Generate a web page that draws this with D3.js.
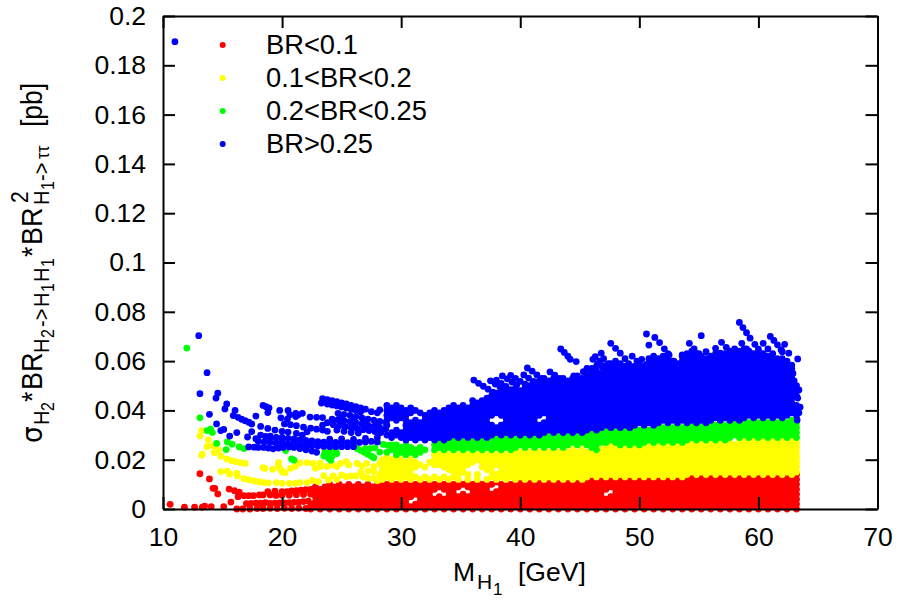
<!DOCTYPE html>
<html>
<head>
<meta charset="utf-8">
<script src="https://cdnjs.cloudflare.com/ajax/libs/d3/7.8.5/d3.min.js"></script>
<style>
body { margin: 0; background: #fff; }
text { font-family: "Liberation Sans", Arial, sans-serif; fill: #000; }
</style>
</head>
<body>
<div id="viz"></div>
<script>
var xTicks = [10, 20, 30, 40, 50, 60, 70];
var yTicks = [0, 0.02, 0.04, 0.06, 0.08, 0.1, 0.12, 0.14, 0.16, 0.18, 0.2];
var legendLabels = ['BR<0.1', '0.1<BR<0.2', '0.2<BR<0.25', 'BR>0.25'];
var colors = ['#ff0000', '#ffff00', '#00ff00', '#0000ff'];

// values are in units of 0.001 pb
// loose points: flat x,y,x,y
var redLoose = [10.6,1.9, 11.8,.7, 12.65,.7, 13.3,.7, 13.5,1.2, 14.05,1, 15.1,1, 13.1,14.3, 13.9,12.2, 14.2,8.4, 14.35,8.4, 14.6,6.1, 15.7,2.8,
  15.55,8.1, 16,7.4, 16.4,6.8, 16.3,5, 16.8,5.4, 17.2,5.4, 17.6,5.4, 18.1,5.7, 18.4,5.7, 18.8,7, 19,5.7, 19.4,7.2, 19.5,5.5, 20,7, 20.4,7, 20.8,7.3, 21.2,7.4, 21.6,7.6, 22,7.8, 20,5.6, 20.6,5.6, 21.2,5.8, 21.8,5.9,
  16.2,0, 16.7,0, 17,2.2, 17.3,0, 17.4,2.3, 17.8,2.4, 17.9,.2, 18.2,2.4, 18.4,.2, 18.6,2.6, 19,2.3, 19,.3, 19.4,2.4, 19.6,.2, 19.8,2.5, 20.2,.3, 20.2,2.5, 20.6,2.6, 20.8,.2, 21,2.7, 21.4,.3, 21.4,2.8, 21.8,3, 22,.2, 22.2,3.2];
var yellowLoose = [13.25,31.8, 13.1,29.6, 13.8,28, 13.7,25.3, 14.2,25.6, 14.65,24, 14.85,21.5, 14.3,22.9, 13.3,22.3, 13.25,21.8,
  15.35,20.3, 15.77,19.6, 16.1,19.2, 16.5,18.8, 16.9,18.5, 14.85,15.2, 15.4,15.4, 15.6,14.2, 16.2,14.5, 16.25,13.4, 16.8,12.3, 17.25,11.8, 17.7,11.4, 18.1,11, 18.5,10.7, 18.85,10.6, 19.5,10.7, 20,10.4, 20.6,10.4, 21.1,10.4, 21.5,10.7, 22.1,10.7, 22.55,11.6, 23.05,11.1, 23.5,13.5, 23.9,11.8, 24.3,13.4, 24.6,12, 25,13.8, 25.4,13.1, 25.8,13.4, 26.2,13.4, 26.8,13.1, 27.2,12.5, 27.7,12.4, 28.2,13.8, 28,11.5,
  18.4,16.8, 18.55,16.4, 19.2,16.1, 19.7,18.8, 19.8,16.5, 20,15.1, 20.25,14.7, 19.7,17.4, 20.7,16.5, 21.1,17.2, 21.5,18.7, 22.1,18.8, 22.6,18.5, 22.8,16.5, 23.2,17.2, 23.2,18.6, 23.75,17.2, 24.2,17.9, 24.6,17.2, 24.9,18.5, 25.4,19.2, 25.6,17.9, 26.3,18.5, 26.7,17.4, 27.1,18.5, 27.7,17.2, 28.2,18.5, 27.7,15.2, 27.2,15.4, 26.6,15];
var greenLoose = [12,65.3, 13.1,37, 13.7,31.8, 14,32.4, 14.15,31, 14.5,26.6, 15.4,27.2, 15.8,26.3, 15.3,24.1, 16.4,25.2, 16.8,24.5, 20.3,23.7, 20.8,20.3, 21,19.8, 22.4,26,
  23.5,21.5, 23.6,23, 23.9,20.6, 23.9,22.5, 24.1,24, 24.2,21.5, 24.6,22.5, 24.1,19.8, 24.5,24,
  26.3,24.5, 26.6,23.8, 26.9,23, 27.2,22.2, 27.5,21.4, 27.7,20.8, 27,24.5, 27.4,24.5, 27.8,24.8, 28.2,23.1, 28.8,23,
  28.5,26.2, 28.9,25.8, 29.2,26, 29.2,24];
var blueLoose = [11,189.6, 13,70.3, 13.7,55.3, 13.1,46.8, 14.6,47, 14.45,45, 15.35,42.6, 15.2,40.6, 16.05,40, 15.9,37.9, 13.9,38.4, 16.3,37.2, 16.6,36.4, 16.9,35.8, 17.2,35.2, 17.45,34.5, 17.8,37.7, 18.4,42, 18.65,41.5, 18.9,41, 18.8,39.1, 19.8,40, 19.9,37, 20.5,40, 20.65,38.2, 20.45,36.5, 21.15,38.8, 21.15,37.5, 21.7,38.8, 21.35,38.2, 22.35,37.3, 22.9,37.2, 23.4,37.1, 14.5,34.5, 15.1,32.3, 14.85,31.8, 15.6,29.6, 16.2,31, 17.1,29.2, 17.45,31.4, 18.2,33.5, 18.8,32.7, 19.4,32, 20,31.5, 20.5,31.2, 21.2,30.7, 21.7,30, 22.1,31.3,
  20.2,34.5, 20.7,34.2, 21.2,33.8, 21.8,33.2, 22.4,32.8, 22.9,32.4, 23.4,34, 23.4,32, 23.8,31.5,
  17.2,25.2, 17.65,25.1, 18,25, 18.45,25, 18.85,24.7, 19.25,24.4, 19.7,24.7, 20.1,25, 20.6,25.2, 21,25, 21.5,24.5, 22,24, 22.5,23.5, 22.9,23,
  17.8,28.5, 18.2,30, 18.6,29.5, 19,29.6, 19.5,29, 20,29, 20.5,28.6, 21,28.4, 21.5,28, 22,27.8, 22.5,27.6, 23,27.3, 23.5,27.1, 24,26.9, 24.5,27, 25,27, 25.5,26.9, 26,26.9, 26.5,27, 27,27.2, 27.5,27.4, 28,27.2,
  18,27.5, 18.5,27.2, 19,27, 19.5,26.8, 20,26.6, 20.5,26.4, 21,26.2, 21.5,26, 22,25.8, 22.5,25.6, 23,25.6, 23.5,25.4, 24,25.3, 24.5,25.3, 25,25.3, 25.5,25.3, 26,25.3, 19,28, 20,27.5, 21,27.3, 22,26.8, 23,26.5, 24,28.3, 25,28.4, 26,28.2, 27,28.6, 28,29,
  23.4,44.8, 23.8,44.4, 24.2,44, 24.6,43.5, 25,43, 25.4,42.6, 25.8,42, 26.2,41.5, 26.6,41, 27,40.5, 23.3,43, 23.8,42.6, 24.2,42.2, 24.6,41.8, 25,41.4, 25.4,41, 25.8,40.5, 26.2,40, 26.6,39.5, 27.5,39.5, 28,39, 28.2,40.2,
  24.7,38.8, 25.2,38.4, 25.7,38, 26.2,37.5, 26.7,37, 27.2,36.5, 27.7,36, 28.2,35.5, 28.7,35, 24.2,36.5, 24.7,36.2, 25.2,35.8, 25.7,35.4, 26.2,35, 26.7,34.5, 27.2,34, 27.7,33.5, 28.2,33, 28.7,32.5, 23.8,35, 24.3,34.2, 24.8,33.8, 25.3,33.4, 25.8,33, 26.3,32.6, 26.8,32.2, 27.3,31.8, 27.8,31.4, 28.3,31, 24.6,32, 25.2,31.5, 25.8,31, 26.4,30.8, 25,37, 26,36.5, 27,35.5, 28,34.5, 24.2,35.5, 25,34.8, 26,34, 27,33, 28,32,
  // streaks on the top edge
  36.1,52.3, 36.5,51, 36.9,49.8, 37.3,48.6, 37.7,47.4, 38.1,46.2, 37.5,52, 37.9,50.7, 38.3,49.5, 38.7,48.3, 39.1,47, 38.5,54, 38.9,52.8, 39.3,51.5, 39.7,50.3, 39.2,54.2, 39.6,53, 40,51.8, 40.4,50.6, 40.8,49.4, 41.2,48.2,
  38,52.3, 38.4,51, 38.8,49.7, 39.2,48.4, 39.6,47.1, 40.3,54.4, 40.7,53.1, 41.1,51.8, 41.5,50.4, 41.9,49, 42.3,47.4, 42.5,45.6,
  42.8,51, 43.2,49.7, 43.6,48.3, 44,47, 44.5,45.6, 45,44.2,
  40.6,57.2, 41,55.9, 41.4,54.4, 41.8,53, 42.2,51.7, 42.5,55.6, 42.9,54.3, 43.3,53, 43.7,51.8, 44.1,50.5, 44.5,49.3, 43.4,64.9, 43.7,63.5, 44,62, 44.2,60.7, 44.7,59.8, 44.5,54, 44.9,52.7, 45.3,51.4, 45.7,50.1, 45.6,57, 46,55.7, 46.4,54.4, 46.8,53, 47.2,51.7, 46.1,60.7, 46.5,59, 46.9,57.5, 47.3,56,
  45.3,55.7, 45.7,54.3, 46.1,52.9, 46.5,51.5, 46.9,50, 47.3,48.5, 47.6,47, 46.3,61.8, 46.7,60, 47.1,58.2, 47.5,56, 47.9,53.7,
  46.8,63.2, 47,61, 47.4,59, 47.8,57, 48.2,55, 48.6,53, 47.6,67.2, 48,65.2, 48.4,63.2, 48.8,61, 49.1,59, 49.4,57, 49.4,62, 49.8,60, 50.2,58, 50.6,71, 50.8,66.5, 51,60.7, 51.3,69.6, 51.7,67.5, 52.1,65, 52.5,62.5, 52.9,60, 53.3,57.5, 50.2,60.7, 50.6,58.7, 51,56.7,
  53.6,62.5, 54,60.5, 54.4,58.5, 54.8,56.5, 55.2,54.5, 54.2,67.2, 54.6,65, 55,63, 55.4,60.5, 55.8,58.5, 55.2,70.3, 55.6,63.8, 56,61.8, 56.4,59.8, 56.8,57.8, 56.4,65.2, 56.8,63.2, 57.2,61.2, 57.6,59, 56.9,67.6, 57.3,65.6, 57.7,63.6, 58.1,61.5, 58.5,59.5,
  58.4,75.7, 58.7,73.6, 59,71.5, 59.3,69.3, 59.7,66.8, 60,64.8, 60.3,62.8, 58.6,67.2, 59,65, 59.4,63, 59.8,61, 60.4,67.2, 60.8,65, 61.2,63, 61.6,61, 61,70, 61.3,68.4, 61.6,66.6, 61.9,64.6, 62,63.8, 62.2,66.8, 62.55,63.2, 63.3,60.9, 62.8,58.4, 62.9,55, 63,52, 63.4,48.3, 63.3,45, 63.5,41.3, 63.4,39, 63.25,36.1];

// dense part: each column is [x, y, y, ...]
var redCols = [[22.4,0,2,6,8],[22.8,1,3,5,7,9],[23.2,0,2,4,6,8],[23.6,1,3,5,7,9],[24,0,2,4,6,8,10],[24.4,1,3,5,7,9],[24.8,0,2,4,6,8,10],[25.2,1,3,5,7,9],[25.6,0,2,4,6,8,10],[26,1,3,5,7,9],[26.4,0,2,4,6,8,10],[26.8,1,3,5,7,9],[27.2,0,2,4,6,8,10],[27.6,1,3,5,7,9],[28,0,2,4,6,8,10],[28.4,1,3,5,7,9,11],[28.8,0,2,4,6,8,10],
[29.2,1,3,5,7,9,11],[29.6,0,2,4,6,8,10],[30,1,3,5,7,9,11],[30.4,0,2,4,6,8,10],[30.8,1,5,7,9,11],[31.2,0,2,6,8,10],[31.6,1,3,5,7,9,11],[32,0,2,4,6,8,10],[32.4,1,3,5,7,9,11],[32.8,0,2,4,8,10],[33.2,1,3,5,9,11],[33.6,0,2,4,8,10],[34,1,3,5,7,9,11],[34.4,0,2,4,6,8,10],[34.8,1,3,5,9,11],[35.2,0,2,4,6,10],[35.6,1,3,5,9,11],[36,0,2,4,6,8,10],[36.4,1,3,5,7,9,11],[36.8,0,2,4,6,8,10],[37.2,1,3,5,7,9,11],[37.6,0,2,4,6,10],[38,1,3,5,7,11],[38.4,0,2,4,6,8,10],[38.8,1,3,5,7,9,11],[39.2,0,2,4,6,8,10],[39.6,1,3,5,7,9,11],
[40,0,2,4,6,8,10,12],[40.4,1,3,5,7,9,11],[40.8,0,2,4,6,8,10,12],[41.2,1,3,5,7,9,11],[41.6,0,2,4,6,8,10,12],[42,1,3,5,7,9,11],[42.4,0,2,4,6,8,10,12],[42.8,1,3,5,7,9,11],[43.2,0,2,4,6,8,10,12],[43.6,1,3,5,7,9,11],[44,0,2,4,6,8,10,12],[44.4,1,3,5,7,9,11],[44.8,0,2,4,6,8,10,12],[45.2,1,3,5,7,9,11],[45.6,0,2,4,6,8,10,12],[46,1,3,5,7,9,11,13],[46.4,0,2,4,6,8,10,12],[46.8,1,3,5,7,9,11,13],
[47.2,0,2,4,8,10,12],[47.6,1,3,5,9,11,13],[48,0,2,4,6,8,10,12],[48.4,1,3,5,7,9,11,13],[48.8,0,2,4,6,8,10,12],[49.2,1,3,5,7,9,11,13],[49.6,0,2,4,6,8,10,12],[50,1,3,5,7,9,11,13],[50.4,0,2,4,6,8,10,12],[50.8,1,3,5,7,9,11,13],[51.2,0,2,4,6,8,10,12],[51.6,1,3,5,7,9,11,13],[52,0,2,4,6,8,10,12],[52.4,1,3,5,7,9,11,13],[52.8,0,2,4,6,8,10,12],[53.2,1,3,5,7,9,11,13],[53.6,0,2,4,6,8,10,12],[54,1,3,5,7,9,11,13],[54.4,0,2,4,6,8,10,12,14],[54.8,1,3,5,7,9,11,13],[55.2,0,2,4,6,8,10,12,14],[55.6,1,3,5,7,9,11,13],[56,0,2,4,6,8,10,12,14],[56.4,1,3,5,7,9,11,13],[56.8,0,2,4,6,8,10,12,14],[57.2,1,3,5,7,9,11,13],[57.6,0,2,4,6,8,10,12,14],[58,1,3,5,7,9,11,13],[58.4,0,2,4,6,8,10,12,14],[58.8,1,3,5,7,9,11,13],[59.2,0,2,4,6,8,10,12,14],[59.6,1,3,5,7,9,11,13],[60,0,2,4,6,8,10,12,14],[60.4,1,3,5,7,9,11,13],[60.8,0,2,4,6,8,10,12,14],[61.2,1,3,5,7,9,11,13],[61.6,0,2,4,6,8,10,12,14],[62,1,3,5,7,9,11,13],[62.4,0,2,4,6,8,10,12,14],[62.8,1,3,5,7,9,11,13],[63.2,0,2,4,6,8,10,12,14]];

var yellowCols = [[28.4,12,14,16,18,20],[28.8,13,15,17,19,21],[29.2,12,14,16,18,20],[29.6,13,15,17,19,21],[30,12,14,16,18,20],[30.4,13,15,17,19],[30.8,12,14,16,18,20],[31.2,13,17,19],[31.6,12,18],[32,13,17],[32.4,12,19],[32.8,13,18,20,22],[33.2,12,18,20,22],[33.6,13,17,19,21,23],[34,12,16,18,20,22],[34.4,13,15,17,19,21,23],[34.8,12,14,16,18,20,22],[35.2,15,17,19,21,23],[35.6,12,14,18,20,22],[36,19,21,23],[36.4,12,14,20,22],[36.8,17,19,21,23],[37.2,12,16,18,20,22],[37.6,13,15,17,19,21,23],[38,12,14,18,20,22],[38.4,13,15,17,19,21,23],[38.8,12,14,16,18,20,22],
[39.2,13,15,17,19,21,23],[39.6,12,14,16,18,20,22,24],[40,13,15,17,19,21,23],[40.4,12,14,16,18,20,22,24],[40.8,13,15,17,19,21,23],[41.2,12,14,16,18,20,22,24],[41.6,13,15,17,19,21,23],[42,12,14,16,18,20,22,24],[42.4,13,15,17,19,21,23],[42.8,12,14,16,18,20,22,24],[43.2,13,15,17,19,21,23],[43.6,12,14,16,18,20,22,24],[44,13,15,17,19,21,23],[44.4,12,14,16,18,20,22,24],[44.8,13,15,17,19,21,23],[45.2,12,14,16,18,20,22,24],[45.6,13,15,17,19,21,23],[46,14,16,18,20,22,24],[46.4,13,15,17,19,21,23],[46.8,14,16,18,20,22,24],
[47.2,13,15,17,19,21,23,25],[47.6,14,16,18,20,22,24,26],[48,13,15,17,19,21,23,25],[48.4,14,16,18,20,22,24,26],[48.8,13,15,17,19,21,23,25],[49.2,14,16,18,20,22,24,26],[49.6,13,15,17,19,21,23,25],[50,14,16,18,20,22,24,26],[50.4,13,15,17,19,21,23,25],[50.8,14,16,18,20,22,24,26],[51.2,13,15,17,19,21,23,25],[51.6,14,16,18,20,22,24,26],[52,13,15,17,19,21,23,25],[52.4,14,16,18,20,22,24,26],[52.8,13,15,17,19,21,23,25],[53.2,14,16,18,20,22,24,26],[53.6,13,15,17,19,21,23,25],[54,14,16,18,20,22,24,26],[54.4,15,17,19,21,23,25,27],[54.8,14,16,18,20,22,24,26],[55.2,15,17,19,21,23,25,27],[55.6,14,16,18,20,22,24,26],[56,15,17,19,21,23,25,27],[56.4,14,16,18,20,22,24,26],[56.8,15,17,19,21,23,25,27],[57.2,14,16,18,20,22,24,26],[57.6,15,17,19,21,23,25,27],[58,14,16,18,20,22,24,26],[58.4,15,17,19,21,23,25,27],[58.8,14,16,18,20,22,24,26,28],[59.2,15,17,19,21,23,25,27],[59.6,14,16,18,20,22,24,26,28],[60,15,17,19,21,23,25,27],[60.4,14,16,18,20,22,24,26,28],[60.8,15,17,19,21,23,25,27],[61.2,14,16,18,20,22,24,26,28],[61.6,15,17,19,21,23,25,27],[62,14,16,18,20,22,24,26,28],[62.4,15,17,19,21,23,25,27],[62.8,14,16,18,20,22,24,26,28],[63.2,15,17,19,21,23,25,27]];

var greenCols = [[29.6,22,24,26],[30,23,25],[30.4,22,24,26],[30.8,23,25],[31.2,22,24],[31.6,23,25],[32,24],[32.8,24,26],[33.2,25,27],[33.6,24,26,28],[34,25,27,29],[34.4,24,26,28],[34.8,25,27,29],[35.2,24,26,28],[35.6,25,27,29],[36,24,26,28],[36.4,25,27,29],[36.8,24,26,28],[37.2,25,27,29],[37.6,24,26,28],[38,25,27,29],[38.4,24,26,28,30],[38.8,25,27,29],[39.2,24,26,28,30],[39.6,25,27,29],[40,26,28,30],[40.4,25,27,29],[40.8,26,28,30],[41.2,25,27,29],[41.6,26,28,30],[42,25,27,29,31],[42.4,26,28,30],[42.8,25,27,29,31],[43.2,26,28,30],[43.6,25,27,29,31],[44,26,28,30],[44.4,27,29,31],[44.8,26,28,30],[45.2,27,29,31],[45.6,26,28,30],[46,25,27,29,31],[46.4,24,26,28,30],[46.8,27,29,31],[47.2,27,29,31,33],[47.6,28,30,32],[48,27,29,31,33],[48.4,26,28,30,32],[48.8,27,29,31,33],[49.2,26,28,30,32],[49.6,27,29,31,33],[50,26,28,30,32],[50.4,27,29,31,33],[50.8,28,30,32],[51.2,27,29,31,33],[51.6,28,30,32,34],[52,27,29,31,33],[52.4,28,30,32,34],[52.8,27,29,31,33],[53.2,28,30,32,34],[53.6,27,29,31,33],[54,28,30,32,34],[54.4,29,31,33,35],[54.8,28,30,32,34],[55.2,29,31,33,35],[55.6,28,30,32,34],[56,29,31,33,35],[56.4,28,30,32,34],[56.8,29,31,33,35],[57.2,28,30,32,34],[57.6,29,31,33,35],[58,30,32,34,36],[58.4,29,31,33,35],[58.8,30,32,34,36],[59.2,29,31,33,35],[59.6,30,32,34,36],[60,29,31,33,35],[60.4,30,32,34,36],[60.8,29,31,33,35],[61.2,30,32,34,36],[61.6,29,31,33,35],[62,30,32,34,36],[62.4,29,31,33,35],[62.8,30,32,34,36],[63.2,29,31,33,35]];

var blueCols = [[28.8,30,34,36,38,40,42],[29.2,29,31,37,39,41],[29.6,30,32,36,38,40,42],[30,29,31,37,39,41],[30.4,28,30,32,34,36,38,40],[30.8,29,31,33,35,39,41],[31.2,28,30,32,34,36,40],[31.6,29,31,33,35,39],[32,28,30,32,34,36,38],[32.4,29,31,33,35,37,39],[32.8,28,30,32,34,36,38,40],[33.2,29,31,33,35,37,39],[33.6,28,30,32,34,36,38,40],[34,29,31,33,35,37,39,41],[34.4,30,32,34,36,38,40,42],[34.8,29,31,33,35,37,39,41],[35.2,30,32,34,36,38,40,42],[35.6,29,31,33,35,37,39,41],[36,30,32,34,36,38,40,42,44],[36.4,29,31,33,35,37,39,41,43],[36.8,30,32,34,36,38,40,42,44],[37.2,29,31,33,35,37,39,41,43,45],[37.6,30,32,34,38,40,42,44,46],[38,31,33,39,41,43,45,47],[38.4,30,32,34,38,40,42,44,46,48],[38.8,31,33,35,37,39,41,43,45,47],[39.2,30,32,34,36,38,40,42,44,46],[39.6,31,33,35,37,39,41,43,45,47,49],[40,30,32,34,36,38,40,42,44,46,48],[40.4,31,33,35,37,39,41,43,45,47,49],[40.8,30,32,34,36,38,40,42,44,46,48,50],[41.2,31,33,35,37,39,41,43,45,47,49,51],[41.6,30,32,34,38,40,42,44,46,48,50,52],[42,31,33,35,39,41,43,45,47,49,51,53],[42.4,32,34,36,38,40,42,44,46,48,50,52],[42.8,31,33,35,37,39,41,43,45,47,49,51,53],[43.2,32,34,36,38,40,42,44,46,48,50,52],[43.6,31,33,35,37,39,41,43,45,47,49,51,53],[44,32,34,36,38,40,42,44,46,48,50,52],
[44.4,31,33,35,37,39,41,43,45,47,49,51,53],[44.8,32,34,36,38,40,42,44,46,48,50,52,54],[45.2,31,33,35,37,39,41,43,45,47,49,51,53],[45.6,32,34,36,38,40,42,44,46,48,50,52,54],[46,33,35,37,39,41,43,45,47,49,51,53,55,57],[46.4,32,34,36,38,40,42,44,46,48,50,52,54,56,58],[46.8,33,35,37,39,41,43,45,47,49,51,53,55],[47.2,34,36,38,40,42,44,46,48,50,52,54,56,58],[47.6,33,35,37,39,41,43,45,47,49,51,53,55,57,59],[48,34,36,38,40,42,44,46,48,50,52,54,56,58,60],[48.4,33,35,37,39,41,43,45,47,49,51,53,55,57,59],[48.8,34,36,38,40,42,44,46,48,50,52,54,56,58],[49.2,33,35,37,39,41,43,45,47,49,51,53,55,57],[49.6,34,36,38,40,42,44,46,48,50,52,54,56,58],[50,35,37,39,41,43,45,47,49,51,53,55,57,59],[50.4,34,36,38,40,42,44,46,48,50,52,54,56,58],[50.8,35,37,39,41,43,45,47,49,51,53,55,57,59,61],[51.2,34,36,38,40,42,44,46,48,50,52,54,56,58,60,62],[51.6,35,37,39,41,43,45,47,49,51,53,55,57,59,61],[52,36,38,40,42,44,46,48,50,52,54,56,58,60,62],[52.4,35,37,39,41,43,45,47,49,51,53,55,57,59,61,63],[52.8,36,38,40,42,44,46,48,50,52,54,56,58,60],[53.2,35,37,39,41,43,45,47,49,51,53,55,57,59],[53.6,36,38,40,42,44,46,48,50,52,54,56,58,60,62],[54,35,37,39,41,43,45,47,49,51,53,55,57,59,61,63],[54.4,36,38,40,42,44,46,48,50,52,54,56,58,60,62,64],[54.8,35,37,39,41,43,45,47,49,51,53,55,57,59,61,63],[55.2,36,38,40,42,44,46,48,50,52,54,56,58,60,62],[55.6,35,37,39,41,43,45,47,49,51,53,55,57,59,61],[56,36,38,40,42,44,46,48,50,52,54,56,58,60,62],[56.4,37,39,41,43,45,47,49,51,53,55,57,59,61,63],[56.8,36,38,40,42,44,46,48,50,52,54,56,58,60,62],[57.2,37,39,41,43,45,47,49,51,53,55,57,59,61,63],[57.6,36,38,40,42,44,46,48,50,52,54,56,58,60,62,64],[58,37,39,41,43,45,47,49,51,53,55,57,59,61,63,65],[58.4,36,38,40,42,44,46,48,50,52,54,56,58,60,62,64],[58.8,37,39,41,43,45,47,49,51,53,55,57,59,61,63,65],[59.2,38,40,42,44,46,48,50,52,54,56,58,60,62,64],[59.6,37,39,41,43,45,47,49,51,53,55,57,59,61,63],[60,38,40,42,44,46,48,50,52,54,56,58,60,62,64],[60.4,37,39,41,43,45,47,49,51,53,55,57,59,61,63],[60.8,38,40,42,44,46,48,50,52,54,56,58,60,62],[61.2,37,39,41,43,45,47,49,51,53,55,57,59,61],[61.6,38,40,42,44,46,48,50,52,54,56,58,60],[62,37,39,41,43,45,47,49,51,53,55,57,59,61],[62.4,38,40,42,44,46,48,50,52,54,56,58,60],[62.8,39,41,43,45,47,49,51,53,55,57],[63.2,38,40,42,46,48,50]];

var margin = { left: 163, top: 16, right: 877.5, bottom: 509 };

function flat(loose, cols) {
  var out = [];
  for (var i = 0; i < loose.length; i += 2) out.push([loose[i], loose[i + 1]]);
  cols.forEach(function(c) {
    c.slice(1).forEach(function(v) { out.push([c[0], v]); });
  });
  return out;
}
var series = [flat(redLoose, redCols), flat(yellowLoose, yellowCols), flat(greenLoose, greenCols), flat(blueLoose, blueCols)];

var x = d3.scaleLinear().domain([10, 70]).range([margin.left, margin.right]);
var y = d3.scaleLinear().domain([0, 0.2]).range([margin.bottom, margin.top]);

var svg = d3.select('#viz').append('svg').attr('width', 899).attr('height', 600).style('display', 'block');

series.forEach(function(pts, i) {
  svg.append('g')
    .attr('fill', colors[i])
    .selectAll('circle')
    .data(pts)
    .enter()
    .append('circle')
    .attr('cx', function(d) { return x(d[0]); })
    .attr('cy', function(d) { return y(d[1] * 0.001); })
    .attr('r', 3.4);
});

function styleAxis(g) {
  g.selectAll('path').attr('stroke', '#000').attr('stroke-width', 2);
  g.selectAll('line').attr('stroke', '#000').attr('stroke-width', 2);
  g.selectAll('text').style('font-size', '26.5px').attr('fill', '#000');
}

svg.append('g').attr('transform', 'translate(0,' + margin.bottom + ')')
  .call(d3.axisBottom(x).tickValues(xTicks).tickSizeInner(-12).tickSizeOuter(0).tickPadding(18).tickFormat(String))
  .call(styleAxis);
svg.append('g').attr('transform', 'translate(0,' + margin.top + ')')
  .call(d3.axisTop(x).tickValues(xTicks).tickSizeInner(-12).tickSizeOuter(0).tickFormat(''))
  .call(styleAxis);
svg.append('g').attr('transform', 'translate(' + margin.left + ',0)')
  .call(d3.axisLeft(y).tickValues(yTicks).tickSizeInner(-12).tickSizeOuter(0).tickPadding(17).tickFormat(String))
  .call(styleAxis);
svg.append('g').attr('transform', 'translate(' + margin.right + ',0)')
  .call(d3.axisRight(y).tickValues(yTicks).tickSizeInner(-12).tickSizeOuter(0).tickFormat(''))
  .call(styleAxis);

// legend
legendLabels.forEach(function(label, i) {
  var ly = 45 + i * 33;
  svg.append('circle').attr('cx', 222.7).attr('cy', ly).attr('r', 3).attr('fill', colors[i]);
  svg.append('text').attr('x', 266).attr('y', ly + 9).style('font-size', '27.3px').text(label);
});

// x label
var xl = svg.append('g').attr('transform', 'translate(453,581)');
xl.append('text').attr('x', 0).attr('y', 0).style('font-size', '26.5px').text('M');
xl.append('text').attr('x', 24).attr('y', 8).style('font-size', '21px').text('H');
xl.append('text').attr('x', 40).attr('y', 14).style('font-size', '17px').text('1');
xl.append('text').attr('x', 65).attr('y', 0).style('font-size', '26.5px').text('[GeV]');

// y label, pieces placed along the rotated baseline, glyphs a bit taller like the original
var yl = svg.append('g').attr('transform', 'translate(42,443) rotate(-90)');
function ylPiece(u, v, size, str, fam) {
  var t = yl.append('text')
    .attr('transform', 'translate(' + u + ',' + v + ') scale(1,1.1)')
    .style('font-size', size + 'px')
    .text(str);
  if (fam) t.style('font-family', fam);
}
ylPiece(0, 0, 26.5, 'σ', '"DejaVu Sans"');
ylPiece(18, 7, 20, 'H');
ylPiece(32, 12, 16, '2');
ylPiece(41, 0, 26.5, '*');
ylPiece(53, 0, 27, 'BR');
ylPiece(90, 7, 20, 'H');
ylPiece(105, 12, 16, '2');
ylPiece(116, 7, 20, '->');
ylPiece(136, 7, 20, 'H');
ylPiece(151, 12, 16, '1');
ylPiece(161, 7, 20, 'H');
ylPiece(176, 12, 16, '1');
ylPiece(186, 0, 26.5, '*');
ylPiece(198, 0, 27, 'BR');
ylPiece(240, -14, 21, '2');
ylPiece(238, 7, 20, 'H');
ylPiece(253, 12, 16, '1');
ylPiece(262, 7, 20, '->');
ylPiece(284, 7, 17, 'ττ');
ylPiece(316, 0, 26.5, '[pb]');
</script>
</body>
</html>
